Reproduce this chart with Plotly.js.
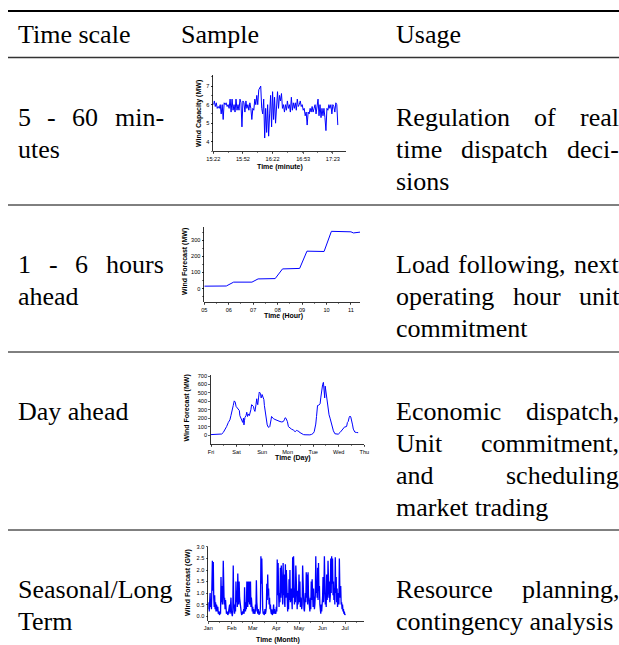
<!DOCTYPE html>
<html>
<head>
<meta charset="utf-8">
<script src="https://cdn.plot.ly/plotly-3.0.1.min.js"></script>
<style>
html,body{margin:0;padding:0;background:#fff;}
#chart{width:619px;height:645px;}
</style>
</head>
<body>
<div id="chart"></div>
<script>
// ---------------- DATA ----------------
// Sample 1: wind capacity (MW), one value per minute starting 15:22
var minuteLabels = ["15:22", "15:52", "16:22", "16:53", "17:23"];
var minuteTicks = [0, 30, 60, 91, 121];
var capacityMW = [
  6.0, 6.2, 5.9, 6.1, 5.8, 5.9, 5.8, 6.0, 5.5, 6.0,
  5.2, 6.1, 6.0, 6.1, 5.9, 6.0, 5.8, 6.3, 5.6, 6.3,
  5.7, 6.0, 5.6, 6.3, 5.7, 6.0, 5.7, 6.3, 6.1, 4.8,
  6.2, 6.1, 5.6, 6.2, 5.8, 6.0, 5.7, 6.1, 5.8, 5.2,
  5.8, 5.7, 6.3, 6.0, 6.5, 6.0, 6.8, 6.9, 7.0, 5.8,
  5.5, 6.3, 4.2, 5.8, 4.5, 6.0, 4.3, 5.5, 6.5, 4.8,
  6.7, 5.2, 6.4, 5.0, 6.0, 6.7, 5.8, 6.5, 6.2, 6.6,
  5.8, 6.0, 5.6, 6.0, 5.7, 6.2, 5.8, 6.0, 5.6, 6.4,
  5.7, 6.1, 5.8, 6.1, 5.7, 6.3, 5.9, 6.0, 6.2, 5.9,
  6.0, 5.7, 5.8, 5.4, 5.6, 4.9, 5.6, 5.5, 5.8, 5.6,
  5.9, 5.6, 5.8, 6.0, 5.5, 6.0, 6.3, 5.4, 6.0, 5.3,
  5.8, 5.4, 5.8, 5.3, 4.6, 5.8, 5.7, 6.0, 5.8, 6.0,
  5.5, 6.0, 5.9, 5.6, 6.1, 6.0, 4.9
];

// Sample 2: 1-6 hours ahead wind forecast (MW)
var hourLabels = ["05", "06", "07", "08", "09", "10", "11"];
var hourTicks = [5, 6, 7, 8, 9, 10, 11];
var hours = [5, 5.9, 6.2, 6.95, 7.2, 7.9, 8.2, 8.9, 9.2, 9.9, 10.2, 11.0, 11.1, 11.37];
var hourForecastMW = [15, 16, 40, 40, 60, 62, 122, 125, 232, 230, 355, 352, 345, 350];

// Sample 3: day-ahead wind forecast (MW)
var dayLabels = ["Fri", "Sat", "Sun", "Mon", "Tue", "Wed", "Thu"];
var dayTicks = [0, 1, 2, 3, 4, 5, 6];
var days = [
  0, 0.1, 0.2, 0.3, 0.42, 0.48, 0.55, 0.61, 0.68, 0.74,
  0.78, 0.81, 0.84, 0.87, 0.91, 0.95, 0.98, 1.0, 1.04, 1.07,
  1.11, 1.13, 1.17, 1.2, 1.24, 1.27, 1.29, 1.31, 1.33, 1.37,
  1.4, 1.43, 1.46, 1.5, 1.53, 1.56, 1.59, 1.62, 1.66, 1.69,
  1.72, 1.76, 1.79, 1.81, 1.83, 1.86, 1.89, 1.92, 1.94, 1.96,
  1.98, 2.0, 2.02, 2.05, 2.07, 2.09, 2.11, 2.13, 2.15, 2.18,
  2.2, 2.24, 2.27, 2.3, 2.33, 2.35, 2.37, 2.41, 2.44, 2.5,
  2.57, 2.63, 2.7, 2.77, 2.83, 2.87, 2.9, 2.93, 2.96, 2.99,
  3.03, 3.06, 3.09, 3.15, 3.22, 3.26, 3.29, 3.32, 3.35, 3.39,
  3.42, 3.45, 3.48, 3.52, 3.55, 3.62, 3.68, 3.78, 3.87, 3.94,
  4.0, 4.04, 4.07, 4.1, 4.13, 4.15, 4.17, 4.22, 4.27, 4.3,
  4.33, 4.35, 4.37, 4.4, 4.42, 4.45, 4.47, 4.5, 4.53, 4.56,
  4.59, 4.62, 4.66, 4.7, 4.73, 4.76, 4.79, 4.85, 4.92, 4.98,
  5.05, 5.11, 5.15, 5.18, 5.24, 5.28, 5.31, 5.34, 5.37, 5.41,
  5.44, 5.47, 5.5, 5.54, 5.57, 5.6, 5.63, 5.7, 5.76
];
var dayForecastMW = [
  5, 5, 6, 8, 12, 30, 60, 100, 150, 180,
  230, 260, 300, 350, 405, 390, 340, 330, 320, 310,
  290, 230, 200, 180, 150, 200, 120, 170, 210, 230,
  270, 220, 250, 230, 260, 300, 360, 350, 340, 300,
  280, 360, 430, 380, 360, 440, 510, 500, 490, 440,
  450, 480, 460, 430, 420, 350, 300, 250, 200, 150,
  120, 95, 90, 100, 130, 180, 220, 200, 195, 185,
  175, 165, 160, 155, 160, 180, 205, 200, 175, 160,
  100, 90, 80, 70, 60, 45, 40, 45, 55, 50,
  48, 35, 30, 20, 12, 5, 3, 0, 2, 8,
  20, 40, 70, 130, 220, 340, 350, 355, 370, 450,
  520, 580, 600, 625, 540, 440, 580, 500, 420, 350,
  280, 240, 200, 140, 100, 80, 50, 15, 8, 10,
  30, 55, 70, 90, 100, 95, 105, 150, 160, 210,
  225, 215, 185, 120, 70, 45, 35, 30, 28
];

// Sample 4: seasonal wind forecast (GW), sampled every 0.6 day from Jan 1
var monthLabels = ["Jan", "Feb", "Mar", "Apr", "May", "Jun", "Jul"];
var monthTicks = [0, 31, 59, 90, 120, 151, 181];
var seasonalGW = [
  0.3, 0.6, 0.2, 0.7, 1.0, 0.4, 0.6, 0.3, 1.2, 2.4,
  1.1, 2.35, 0.8, 0.4, 0.9, 0.3, 0.6, 0.2, 0.5, 0.4,
  0.2, 0.4, 0.1, 0.2, 0.1, 0.05, 0.2, 0.1, 1.7, 0.6,
  1.3, 0.5, 0.9, 2.4, 1.1, 0.5, 0.8, 0.3, 0.7, 0.2,
  0.1, 0.2, 0.1, 0.05, 0.1, 0.3, 0.2, 0.5, 0.1, 0.3,
  0.8, 0.2, 0.1, 0.0, 0.2, 2.2, 0.6, 0.3, 0.1, 0.5,
  0.2, 1.5, 0.6, 1.1, 0.4, 1.85, 1.0, 0.5, 1.5, 0.8,
  0.6, 0.2, 0.3, 0.1, 0.05, 0.1, 0.2, 0.1, 0.3, 0.1,
  1.25, 0.4, 0.2, 0.6, 0.3, 1.5, 0.7, 0.4, 1.5, 0.6,
  1.5, 0.5, 0.9, 1.5, 0.4, 0.8, 0.5, 0.2, 0.4, 0.1,
  0.3, 0.1, 0.2, 0.1, 0.5, 0.2, 1.55, 0.6, 0.3, 0.1,
  0.3, 0.1, 0.05, 0.2, 0.1, 0.4, 2.6, 1.4, 2.5, 0.6,
  0.3, 0.1, 0.2, 0.05, 0.1, 0.3, 0.1, 0.2, 0.4, 1.4,
  0.7, 1.8, 0.9, 1.2, 0.5, 0.8, 0.3, 0.5, 0.2, 0.1,
  0.3, 0.05, 0.1, 0.2, 0.5, 0.1, 0.3, 0.1, 0.2, 0.1,
  0.4, 0.2, 2.45, 0.9, 2.3, 1.0, 0.4, 1.0, 0.6, 2.1,
  0.8, 2.2, 1.0, 1.3, 0.5, 2.3, 0.9, 1.8, 0.6, 0.4,
  2.25, 0.8, 2.0, 1.0, 0.5, 0.2, 1.0, 0.3, 1.6, 0.7,
  2.0, 0.6, 0.9, 1.2, 0.4, 0.3, 2.55, 0.8, 2.6, 1.5,
  0.5, 1.2, 0.6, 2.2, 0.8, 1.2, 0.3, 1.1, 0.5, 0.9,
  1.8, 0.6, 1.5, 0.4, 0.8, 0.6, 0.3, 0.5, 2.2, 0.9,
  0.5, 0.3, 0.2, 0.5, 1.0, 0.6, 1.9, 0.8, 1.8, 0.5,
  1.9, 0.9, 0.4, 0.5, 0.2, 0.8, 0.3, 1.5, 0.7, 1.6,
  1.0, 0.4, 1.2, 0.6, 0.3, 0.5, 0.9, 2.6, 1.0, 1.5,
  0.8, 2.1, 0.7, 2.3, 1.1, 1.3, 0.5, 0.3, 0.1, 0.5,
  0.2, 0.5, 0.8, 1.7, 0.6, 1.2, 2.6, 1.0, 0.5, 0.9,
  0.4, 1.8, 0.7, 1.0, 2.4, 1.2, 0.8, 1.5, 0.6, 0.9,
  2.5, 1.0, 2.6, 1.4, 2.5, 0.9, 1.5, 0.7, 1.2, 0.5,
  2.55, 1.0, 1.7, 0.6, 1.2, 0.4, 0.8, 1.0, 0.5, 2.5,
  1.3, 0.8, 1.3, 0.5, 0.6, 0.3, 0.5, 0.2, 0.3, 0.1,
  0.2, 0.05, 0.1
];

// Table texts
var headers = ["Time scale", "Sample", "Usage"];
var timeScaleLines = [
  ["5 - 60 min-", "utes"],
  ["1 - 6 hours", "ahead"],
  ["Day ahead"],
  ["Seasonal/Long", "Term"]
];
var usageLines = [
  ["Regulation of real", "time dispatch deci-", "sions"],
  ["Load following, next", "operating hour unit", "commitment"],
  ["Economic dispatch,", "Unit commitment,", "and scheduling", "market trading"],
  ["Resource planning,", "contingency analysis"]
];

// ---------------- LAYOUT HELPERS ----------------
var W = 619, H = 645;
function px(x) { return x / W; }
function py(y) { return 1 - y / H; }

var serif = "'Liberation Serif', 'Times New Roman', serif";
var sans = "'Liberation Sans', Arial, sans-serif";
var FS = 26;
var annotations = [];
var cv = document.createElement("canvas").getContext("2d");
cv.font = FS + "px 'Liberation Serif', 'Times New Roman', serif";
function measure(s) { return cv.measureText(s).width; }

function word(s, x, baseline) {
  annotations.push({
    text: s, xref: "paper", yref: "paper",
    x: px(x), y: py(baseline - 9),
    xanchor: "left", yanchor: "middle",
    showarrow: false, borderpad: 0, borderwidth: 0,
    font: { family: serif, size: FS, color: "#000" }
  });
}
// justified paragraph: every line but the last is stretched to the column width
function paragraph(lines, left, right, firstBaseline) {
  lines.forEach(function (line, i) {
    var base = firstBaseline + i * 32;
    var words = line.split(" ");
    var last = (i === lines.length - 1);
    var natural = measure(line);
    if (last || words.length < 2 || natural > right - left) {
      word(line, left, base);
      return;
    }
    var total = 0;
    words.forEach(function (w) { total += measure(w); });
    var gap = (right - left - total) / (words.length - 1);
    var xpos = left;
    words.forEach(function (w) {
      word(w, xpos, base);
      xpos += measure(w) + gap;
    });
  });
}

function axTitle(s, x, y, angle) {
  annotations.push({
    text: s, xref: "paper", yref: "paper",
    x: px(x), y: py(y), xanchor: "center", yanchor: "middle",
    textangle: angle || 0, showarrow: false, borderpad: 0, borderwidth: 0,
    font: { family: sans, size: 7, color: "#000", weight: "bold" }
  });
}

// header
word(headers[0], 18, 44);
word(headers[1], 181, 44);
word(headers[2], 396, 44);

var rowBaselines = [126, 273, 420, 598];
for (var r = 0; r < 4; r++) {
  paragraph(timeScaleLines[r], 18, 164, rowBaselines[r]);
  paragraph(usageLines[r], 396, 619, rowBaselines[r]);
}

// axis titles of the samples
axTitle("Time (minute)", 280, 167);
axTitle("Wind Capacity (MW)", 199, 114, -90);
axTitle("Time (Hour)", 283, 315.5);
axTitle("Wind Forecast (MW)", 185, 262, -90);
axTitle("Time (Day)", 293, 457.5);
axTitle("Wind Forecast (MW)", 186.5, 408, -90);
axTitle("Time (Month)", 278, 640);
axTitle("Wind Forecast (GW)", 188, 583, -90);

// rules
function rule(y, w, c) {
  return { type: "line", xref: "paper", yref: "paper",
    x0: px(8), x1: px(619), y0: py(y), y1: py(y),
    line: { color: c, width: w } };
}
var shapes = [rule(11, 2.2, "#000"), rule(57.5, 1.3, "#333"),
  rule(205, 1, "#000"), rule(352, 1, "#000"), rule(530, 1, "#000")];

function axisBase(extra) {
  var a = {
    showline: true, linecolor: "#000", linewidth: 0.8,
    ticks: "outside", ticklen: 2, tickwidth: 0.6, tickcolor: "#000",
    showgrid: false, zeroline: false, fixedrange: true,
    tickfont: { family: sans, size: 5.6, color: "#000" },
    minor: { ticks: "outside", ticklen: 1.3, tickwidth: 0.5, tickcolor: "#000", showgrid: false }
  };
  for (var k in extra) a[k] = extra[k];
  return a;
}
function minorX(opts) {
  var m = { ticks: "outside", ticklen: 1.3, tickwidth: 0.5, tickcolor: "#000", showgrid: false };
  for (var k in opts) m[k] = opts[k];
  return m;
}

var lineStyle = { color: "#0000ff", width: 1 };
var traces = [
  { type: "scatter", mode: "lines", x0: 0, dx: 1, y: capacityMW, xaxis: "x", yaxis: "y", line: lineStyle, hoverinfo: "skip" },
  { type: "scatter", mode: "lines", x: hours, y: hourForecastMW, xaxis: "x2", yaxis: "y2", line: lineStyle, hoverinfo: "skip" },
  { type: "scatter", mode: "lines", x: days, y: dayForecastMW, xaxis: "x3", yaxis: "y3", line: lineStyle, hoverinfo: "skip" },
  { type: "scatter", mode: "lines", x0: 0, dx: 0.6, y: seasonalGW, xaxis: "x4", yaxis: "y4", line: { color: "#0000ff", width: 1.3 }, hoverinfo: "skip" }
];

var layout = {
  width: W, height: H,
  margin: { l: 0, r: 0, t: 0, b: 0, pad: 0 },
  paper_bgcolor: "#fff", plot_bgcolor: "rgba(0,0,0,0)",
  showlegend: false, hovermode: false,
  annotations: annotations, shapes: shapes,
  xaxis: axisBase({ domain: [px(213.3), px(345.7)], anchor: "y", range: [0, 134],
    tickmode: "array", tickvals: minuteTicks, ticktext: minuteLabels,
    minor: minorX({ dtick: 15, tick0: 0 }) }),
  yaxis: axisBase({ domain: [py(151), py(75)], anchor: "x", range: [3.5, 7.6],
    tickmode: "array", tickvals: [4, 5, 6, 7],
    minor: minorX({ dtick: 0.5, tick0: 0 }) }),
  xaxis2: axisBase({ domain: [px(204.3), px(360)], anchor: "y2", range: [5, 11.37],
    tickmode: "array", tickvals: hourTicks, ticktext: hourLabels,
    minor: minorX({ dtick: 0.5, tick0: 0 }) }),
  yaxis2: axisBase({ domain: [py(302.3), py(227.3)], anchor: "x2", range: [-85, 380],
    tickmode: "array", tickvals: [0, 100, 200, 300],
    minor: minorX({ dtick: 50, tick0: 0 }) }),
  xaxis3: axisBase({ domain: [px(211), px(364.3)], anchor: "y3", range: [0, 6],
    tickmode: "array", tickvals: dayTicks, ticktext: dayLabels,
    minor: minorX({ dtick: 0.5, tick0: 0 }) }),
  yaxis3: axisBase({ domain: [py(444.3), py(375)], anchor: "x3", range: [-110, 712],
    tickmode: "array", tickvals: [0, 100, 200, 300, 400, 500, 600, 700],
    minor: { ticks: "", showgrid: false } }),
  xaxis4: axisBase({ domain: [px(208.3), px(364)], anchor: "y4", range: [0, 206],
    tickmode: "array", tickvals: monthTicks, ticktext: monthLabels,
    minor: minorX({ tickmode: "array", tickvals: [15, 45, 74, 105, 135, 166, 196] }) }),
  yaxis4: axisBase({ domain: [py(620.7), py(546.5)], anchor: "x4", range: [-0.2, 3.02],
    tickmode: "array", tickvals: [0, 0.5, 1, 1.5, 2, 2.5, 3],
    ticktext: ["0.0", "0.5", "1.0", "1.5", "2.0", "2.5", "3.0"],
    minor: { ticks: "", showgrid: false } })
};

Plotly.newPlot("chart", traces, layout, { displayModeBar: false, staticPlot: true });
</script>
</body>
</html>
